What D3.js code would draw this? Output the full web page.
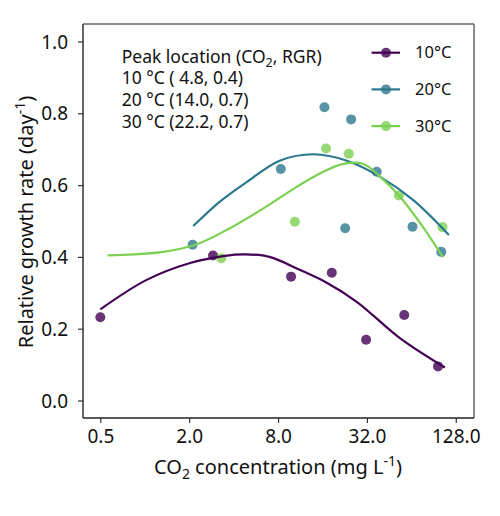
<!DOCTYPE html>
<html><head><meta charset="utf-8">
<script src="https://cdn.jsdelivr.net/npm/d3@7"></script>
<style>body{margin:0;background:#fff}svg text{font-family:"Noto Sans",sans-serif}</style>
</head><body><svg id="c" width="500" height="516"></svg>
<script>
const series = ["10°C", "20°C", "30°C"];
const colors = ["#440154", "#2a788e", "#7ad151"];
// observed points
const co2_10 = [0.5, 2.9, 9.8, 18.5, 31.6, 57.3, 97];
const rgr_10 = [0.232, 0.404, 0.345, 0.356, 0.169, 0.238, 0.095];
const co2_20 = [2.11, 8.35, 16.5, 22.8, 25, 37.3, 65.2, 102];
const rgr_20 = [0.434, 0.645, 0.817, 0.480, 0.783, 0.637, 0.484, 0.414];
const co2_30 = [3.3, 10.4, 16.9, 24.1, 52.7, 104];
const rgr_30 = [0.396, 0.498, 0.702, 0.687, 0.571, 0.483];
// fitted curves
const fitX_10 = [0.5, 1.03, 2.03, 3.5, 4.8, 7.0, 11.2, 17.1, 27.3, 53.8, 108];
const fitY_10 = [0.254, 0.336, 0.383, 0.403, 0.407, 0.400, 0.364, 0.328, 0.275, 0.173, 0.092];
const fitX_20 = [2.13, 3.23, 4.93, 8.2, 14.0, 23.4, 39.4, 66, 115];
const fitY_20 = [0.486, 0.554, 0.609, 0.668, 0.686, 0.668, 0.623, 0.558, 0.461];
const fitX_30 = [0.56, 1.34, 2.25, 3.78, 6.37, 10.7, 16.2, 22.2, 30.3, 39.4, 53.8, 73.5, 105];
const fitY_30 = [0.404, 0.414, 0.435, 0.480, 0.535, 0.595, 0.637, 0.659, 0.659, 0.623, 0.567, 0.494, 0.399];
const xTicks = [0.5, 2, 8, 32, 128];
const yTicks = [0, 0.2, 0.4, 0.6, 0.8, 1.0];
const peakLines = ["10 °C ( 4.8, 0.4)", "20 °C (14.0, 0.7)", "30 °C (22.2, 0.7)"];

const svg = d3.select("#c");
const L = 83, R = 474, T = 24, B = 418;
const x = d3.scaleLog().base(2).domain([Math.pow(2, -1.39), Math.pow(2, 7.41)]).range([L, R]);
const y = d3.scaleLinear().domain([0, 1]).range([400.5, 41.5]);

const pts = [[co2_10, rgr_10], [co2_20, rgr_20], [co2_30, rgr_30]];
const fits = [[fitX_10, fitY_10], [fitX_20, fitY_20], [fitX_30, fitY_30]];

// axes
const xAxis = svg.append("g").attr("transform", `translate(0,${B})`)
  .call(d3.axisBottom(x).tickValues(xTicks).tickFormat(d3.format(".1f")).tickSize(5).tickSizeOuter(0));
const yAxis = svg.append("g").attr("transform", `translate(${L},0)`)
  .call(d3.axisLeft(y).tickValues(yTicks).tickFormat(d3.format(".1f")).tickSize(5).tickSizeOuter(0));
[xAxis, yAxis].forEach(a => {
  a.select(".domain").remove();
  a.selectAll("line").attr("stroke", "#333").attr("stroke-width", 1.2);
  a.selectAll("text").attr("font-size", 19).attr("fill", "#111");
});
xAxis.selectAll("text").attr("y", 11.5).attr("dy", "0.71em");
yAxis.selectAll("text").attr("x", -15).attr("dy", "0.35em");

// frame
svg.append("line").attr("x1", L).attr("x2", R).attr("y1", T).attr("y2", T).attr("stroke", "#666").attr("stroke-width", 1.5);
svg.append("line").attr("x1", R).attr("x2", R).attr("y1", T).attr("y2", B).attr("stroke", "#666").attr("stroke-width", 1.5);
svg.append("line").attr("x1", L).attr("x2", L).attr("y1", T).attr("y2", B).attr("stroke", "#333").attr("stroke-width", 1.5);
svg.append("line").attr("x1", L).attr("x2", R).attr("y1", B).attr("y2", B).attr("stroke", "#222").attr("stroke-width", 1.5);

// points
pts.forEach((p, i) => {
  svg.append("g").selectAll("circle").data(p[0].map((v, j) => [v, p[1][j]])).join("circle")
    .attr("cx", d => x(d[0])).attr("cy", d => y(d[1])).attr("r", 5)
    .attr("fill", colors[i]).attr("fill-opacity", 0.8);
});
// fitted lines
const line = d3.line().x(d => x(d[0])).y(d => y(d[1])).curve(d3.curveCatmullRom.alpha(0.5));
fits.forEach((f, i) => {
  svg.append("path").datum(f[0].map((v, j) => [v, f[1][j]])).attr("d", line)
    .attr("fill", "none").attr("stroke", colors[i]).attr("stroke-width", 2.2);
});

// legend
series.forEach((s, i) => {
  const ly = 52.7 + i * 36.7;
  svg.append("line").attr("x1", 371.5).attr("x2", 400).attr("y1", ly).attr("y2", ly).attr("stroke", colors[i]).attr("stroke-width", 2.2);
  svg.append("circle").attr("cx", 386).attr("cy", ly).attr("r", 5).attr("fill", colors[i]).attr("fill-opacity", 0.8);
  svg.append("text").attr("x", 415).attr("y", ly).attr("dy", "0.35em").attr("font-size", 16.5).attr("fill", "#111").text(s);
});

// annotation
const fs = 17.5;
const ann = svg.append("text").attr("x", 121.7).attr("y", 56.5).attr("font-size", fs).attr("fill", "#111").attr("dy", "0.35em");
ann.append("tspan").text("Peak location (CO");
ann.append("tspan").attr("font-size", 12.5).attr("dy", 4).text("2");
ann.append("tspan").attr("dy", -4).text(", RGR)");
peakLines.forEach((t, i) => {
  svg.append("text").attr("x", 121.7).attr("y", 56.5 + (i + 1) * 21.7).attr("font-size", fs).attr("fill", "#111")
    .attr("dy", "0.35em").text(t);
});

// axis titles
const xt = svg.append("text").attr("x", 278).attr("y", 474).attr("text-anchor", "middle").attr("font-size", 20).attr("fill", "#111");
xt.append("tspan").text("CO");
xt.append("tspan").attr("font-size", 14).attr("dy", 5).text("2");
xt.append("tspan").attr("dy", -5).text(" concentration (mg L");
xt.append("tspan").attr("font-size", 14).attr("dy", -8).text("-1");
xt.append("tspan").attr("dy", 8).text(")");

const yt = svg.append("text").attr("transform", "translate(33,222) rotate(-90)").attr("text-anchor", "middle").attr("font-size", 20).attr("fill", "#111");
yt.append("tspan").text("Relative growth rate (day");
yt.append("tspan").attr("font-size", 14).attr("dy", -8).text("-1");
yt.append("tspan").attr("dy", 8).text(")");
</script></body></html>
